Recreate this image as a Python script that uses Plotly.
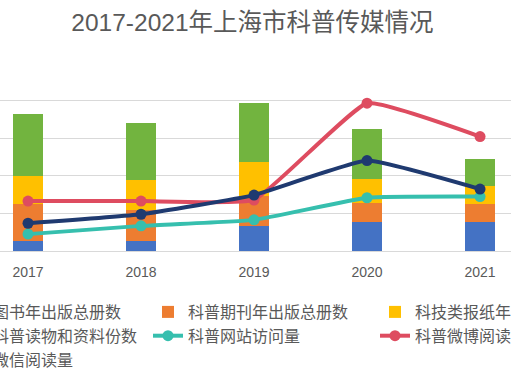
import plotly.graph_objects as go

years = ["2017", "2018", "2019", "2020", "2021"]

bar_names = ["科普图书年出版总册数", "科普期刊年出版总册数", "科技类报纸年出版总份数", "发放科普读物和资料份数"]
books = [0.27, 0.27, 0.67, 0.78, 0.78]
journals = [0.98, 0.83, 0.80, 0.51, 0.47]
newspapers = [0.74, 0.78, 0.91, 0.62, 0.48]
materials = [1.65, 1.53, 1.57, 1.34, 0.72]

line_names = ["科普网站访问量", "科普微博阅读量", "科普微信阅读量"]
website = [0.45, 0.67, 0.83, 1.42, 1.45]
weibo = [1.33, 1.33, 1.36, 3.94, 3.05]
wechat = [0.74, 0.98, 1.49, 2.41, 1.65]

bar_colors = ["#4472C4", "#ED7D31", "#FFC000", "#72B43F"]
line_colors = ["#36BFAE", "#DE4C60", "#1F3A70"]

fig = go.Figure()
bar_data = [books, journals, newspapers, materials]
bar_legends = ["legend", "legend2", "legend3", "legend"]
for name, vals, col, lg in zip(bar_names, bar_data, bar_colors, bar_legends):
    fig.add_trace(go.Bar(x=years, y=vals, name=name, marker=dict(color=col, line=dict(width=0)),
                         legend=lg))

line_data = [website, weibo, wechat]
line_legends = ["legend2", "legend3", "legend"]
for name, vals, col, lg in zip(line_names, line_data, line_colors, line_legends):
    fig.add_trace(go.Scatter(x=years, y=vals, name=name, mode="lines+markers",
                             line=dict(color=col, width=4, shape="spline", smoothing=0.35),
                             marker=dict(color=col, size=11), legend=lg))

leg_font = dict(family="Noto Sans CJK SC", size=16, color="#595959")
top_paper = (251 - 295) / 188

def leg(xpx):
    return dict(x=xpx / 511, xanchor="left", y=top_paper, yanchor="top",
                orientation="v", traceorder="normal", font=leg_font,
                bgcolor="rgba(0,0,0,0)", borderwidth=0)

fig.update_layout(
    width=511, height=385,
    margin=dict(l=0, r=0, t=63, b=134, autoexpand=False),
    paper_bgcolor="white", plot_bgcolor="white",
    barmode="stack", bargap=0.735,
    title=dict(text="2017-2021年上海市科普传媒情况", x=0.494, xanchor="center",
               y=1 - 22 / 385, yanchor="middle",
               font=dict(family="Liberation Sans, Noto Sans CJK SC", size=24.5, color="#595959")),
    xaxis=dict(type="category", range=[-0.248, 4.274], showgrid=False,
               showline=True, linecolor="#D9D9D9", linewidth=1, ticks="",
               ticklabelstandoff=8,
               tickfont=dict(family="Liberation Sans", size=14, color="#595959")),
    yaxis=dict(range=[0, 5.012], tickvals=[1, 2, 3, 4, 5], showgrid=True, gridcolor="#D9D9D9",
               gridwidth=1, showticklabels=False, zeroline=False, showline=False),
    showlegend=True,
    hovermode=False,
    legend=leg(-79),
    legend2=leg(148),
    legend3=leg(375),
)

fig.write_html("out.html", config={"displayModeBar": False},
               post_script="document.body.style.margin='0';document.body.style.overflow='hidden';")
